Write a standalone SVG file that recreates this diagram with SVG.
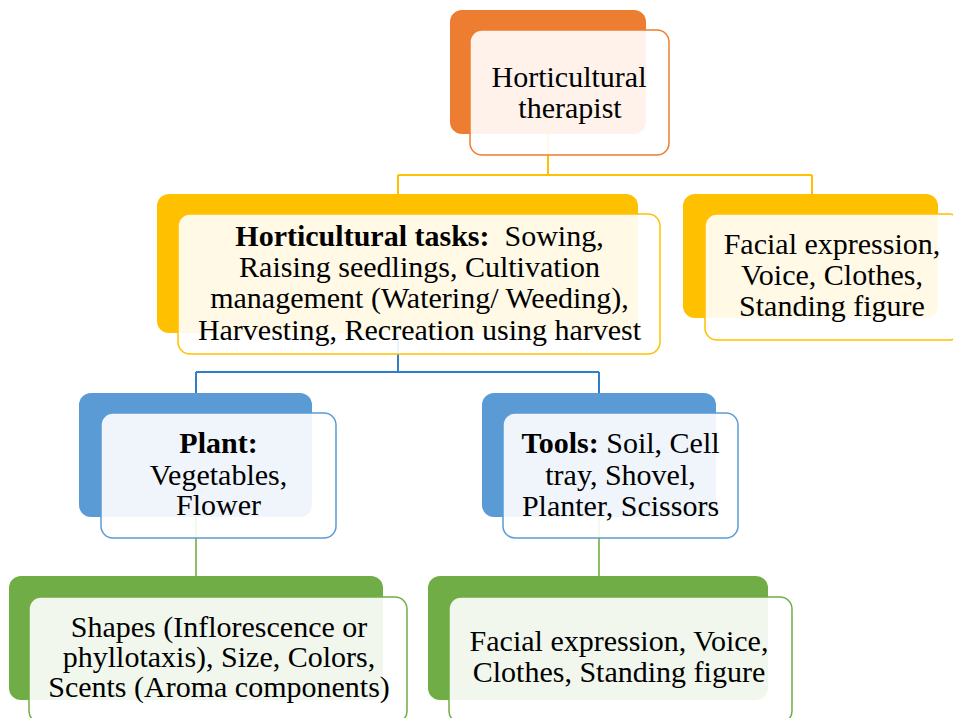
<svg xmlns="http://www.w3.org/2000/svg" width="953" height="718" viewBox="0 0 953 718">
<style>
.t{font-family:"Liberation Serif","Times New Roman",serif;font-size:30px;fill:#000;text-anchor:middle}
.b{font-weight:bold}
.front{fill:#fff;fill-opacity:0.9;stroke-width:1.5}
.or{fill:#ED7D31}.orS{stroke:#ED7D31}
.ye{fill:#FFC000}.yeS{stroke:#FFC000}
.bl{fill:#5B9BD5}.blS{stroke:#5B9BD5}
.gr{fill:#70AD47}.grS{stroke:#70AD47}
.c{fill:none;stroke-width:2}
</style>
<rect width="953" height="718" fill="#fff"/>
<g id="connectors">
<path class="c" stroke="#FFC000" d="M548,134 V175 M398,175 H812 M398,175 V194 M812,175 V194"/>
<path class="c" stroke="#2F7FC8" d="M398,333 V372 M196,372 H599 M196,372 V393 M599,372 V393"/>
<path class="c" stroke="#8CC063" d="M196,517 V576 M599,517 V576"/>
</g>
<g id="n_therapist">
<rect class="or" x="450" y="10" width="196" height="124" rx="12"/>
<rect class="front orS" x="470" y="30" width="199" height="125" rx="12"/>
<text class="t" x="569" y="87">Horticultural</text>
<text class="t" x="570" y="118">therapist</text>
</g>
<g id="n_tasks">
<rect class="ye" x="157" y="194" width="481" height="139" rx="12"/>
<rect class="front yeS" x="178" y="214" width="482" height="140" rx="12"/>
<text class="t" x="419.5" y="246"><tspan class="b">Horticultural tasks:</tspan>&#160; Sowing,</text>
<text class="t" x="419.5" y="277">Raising seedlings, Cultivation</text>
<text class="t" x="419.5" y="308">management (Watering/ Weeding),</text>
<text class="t" x="419.5" y="340">Harvesting, Recreation using harvest</text>
</g>
<g id="n_appearance">
<rect class="ye" x="683" y="194" width="255" height="124" rx="12"/>
<rect class="front yeS" x="705" y="214" width="256" height="126" rx="12"/>
<text class="t" x="832" y="254">Facial expression,</text>
<text class="t" x="832" y="285">Voice, Clothes,</text>
<text class="t" x="832" y="316">Standing figure</text>
</g>
<g id="n_plant">
<rect class="bl" x="79" y="393" width="233" height="124" rx="12"/>
<rect class="front blS" x="101" y="413" width="235" height="125" rx="12"/>
<text class="t" x="218.5" y="453"><tspan class="b">Plant:</tspan></text>
<text class="t" x="218.5" y="485">Vegetables,</text>
<text class="t" x="218.5" y="515">Flower</text>
</g>
<g id="n_tools">
<rect class="bl" x="482" y="393" width="234" height="124" rx="12"/>
<rect class="front blS" x="503" y="413" width="235" height="125" rx="12"/>
<text class="t" x="620.5" y="453"><tspan class="b">Tools:</tspan> Soil, Cell</text>
<text class="t" x="620.5" y="485">tray, Shovel,</text>
<text class="t" x="620.5" y="516">Planter, Scissors</text>
</g>
<g id="n_plant_features">
<rect class="gr" x="9" y="576" width="374" height="124" rx="12"/>
<rect class="front grS" x="29" y="597" width="378" height="126" rx="12"/>
<text class="t" x="219" y="637">Shapes (Inflorescence or</text>
<text class="t" x="219" y="667">phyllotaxis), Size, Colors,</text>
<text class="t" x="219" y="697">Scents (Aroma components)</text>
</g>
<g id="n_tool_features">
<rect class="gr" x="428" y="576" width="340" height="124" rx="12"/>
<rect class="front grS" x="449" y="597" width="343" height="126" rx="12"/>
<text class="t" x="619" y="651">Facial expression, Voice,</text>
<text class="t" x="619" y="682">Clothes, Standing figure</text>
</g>
</svg>
